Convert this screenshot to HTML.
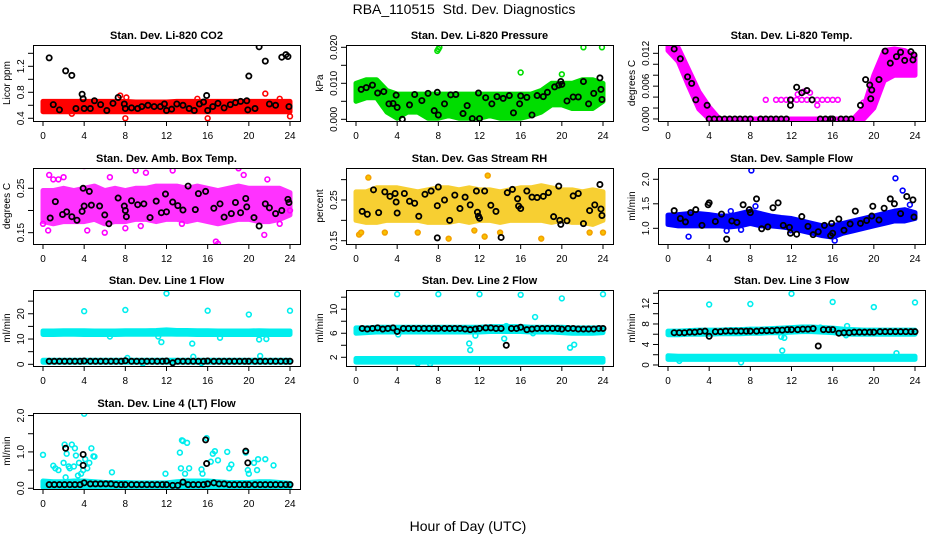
<!DOCTYPE html>
<html><head><meta charset="utf-8">
<style>
html,body{margin:0;padding:0;background:#fff;}
svg{display:block;font-family:"Liberation Sans",sans-serif;}
</style></head>
<body>
<svg id="chart" width="936" height="540" viewBox="0 0 936 540" xmlns="http://www.w3.org/2000/svg">
<text x="464" y="14" text-anchor="middle" font-size="14">RBA_110515&#160; Std. Dev. Diagnostics</text>
<text x="468" y="531" text-anchor="middle" font-size="14">Hour of Day (UTC)</text>
</svg>
<script>
// ---- data ----
const xTicks = [0,4,8,12,16,20,24];
const hours = [0,1,2,3,4,5,6,7,8,9,10,11,12,13,14,15,16,17,18,19,20,21,22,23,24];
const lineHours = [0.6,1.1,1.6,2.1,2.6,3.1,3.6,4,4.6,5.1,5.6,6.1,6.6,7.1,7.6,8,8.6,9.1,9.6,10.1,10.6,11.1,11.6,12,12.6,13.1,13.6,14.1,14.6,15.1,15.6,16,16.6,17.1,17.6,18.1,18.6,19.1,19.6,20,20.6,21.1,21.6,22.1,22.6,23.1,23.6,24];

// P1 CO2
const co2Lo = [0.5,0.5,0.5,0.5,0.5,0.5,0.5,0.5,0.5,0.5,0.5,0.5,0.5,0.5,0.5,0.5,0.5,0.5,0.5,0.5,0.5,0.5,0.5,0.5,0.5];
const co2Hi = [0.66,0.66,0.66,0.66,0.66,0.66,0.66,0.66,0.66,0.65,0.65,0.65,0.65,0.66,0.66,0.66,0.66,0.66,0.66,0.66,0.66,0.66,0.66,0.66,0.66];
const co2ExtraX = [2.8,7.5,8,8.1,15,16,16.2,21.6,23,24];
const co2ExtraY = [0.47,0.75,0.4,0.72,0.7,0.4,0.6,0.78,0.7,0.43];
const co2BlackX = [0.6,1,1.6,2.2,2.8,3.2,3.8,3.9,4,4.6,5,5.6,6.2,6.8,7.3,7.9,8,8.6,9.2,9.6,10.2,10.8,11.4,11.8,12,12.5,13,13.6,14.2,14.7,15.2,15.6,15.9,16,16.5,17,17.6,18.2,18.7,19.2,19.8,19.9,20,20.6,21,21.6,22,22.6,23.2,23.6,23.8,23.9];
const co2BlackY = [1.33,0.61,0.53,1.13,1.06,0.55,0.77,0.7,0.55,0.55,0.67,0.61,0.52,0.63,0.72,0.62,0.55,0.56,0.55,0.58,0.6,0.58,0.58,0.62,0.52,0.54,0.62,0.6,0.55,0.52,0.62,0.65,0.75,0.52,0.58,0.63,0.56,0.61,0.64,0.66,0.67,0.53,1.05,0.55,1.5,1.28,0.62,0.6,1.34,1.38,1.35,0.58];

// P2 Pressure
const presLo = [0.005,0.006,0.006,0.002,0.0003,0.002,0.002,0.0003,0.0003,0.001,0.0003,0.0003,0.0003,0.001,0.0003,0.0003,0.0003,0.001,0.002,0.004,0.004,0.003,0.003,0.003,0.005];
const presHi = [0.010,0.011,0.011,0.008,0.007,0.007,0.007,0.007,0.007,0.007,0.007,0.007,0.007,0.007,0.007,0.007,0.007,0.007,0.008,0.010,0.010,0.010,0.011,0.011,0.010];
const presExtraX = [7.9,8,8.1,16,20,22.1,23.9];
const presExtraY = [0.019,0.0195,0.02,0.013,0.0125,0.02,0.02];
const presBlackX = [0.5,1,1.6,2.1,2.7,3.2,3.6,3.9,4,4.5,5.2,5.7,6.4,7,7.6,7.9,8,8.6,9.2,9.7,10.4,10.8,11.3,11.9,12,12.6,13.2,13.7,14.3,14.9,15.3,15.9,16,16.6,17.1,17.6,18.2,18.6,19.3,19.7,19.9,20,20.5,21.1,21.6,22.1,22.6,23.1,23.7,23.8,23.9];
const presBlackY = [0.0083,0.0088,0.0095,0.0073,0.0077,0.0043,0.0044,0.0067,0.0033,0,0.004,0.0069,0.0052,0.0072,0.0024,0.0075,0.0012,0.0043,0.0068,0.0069,0.0016,0.0038,0.0002,0.0073,0.0002,0.006,0.0043,0.0063,0.0058,0.0066,0.0018,0.0043,0.0065,0.0061,0.0012,0.0066,0.0063,0.0075,0.009,0.0095,0.0105,0.0097,0.0051,0.0062,0.0062,0.0105,0.0043,0.0072,0.0115,0.0083,0.0055];

// P3 Temp
const tempLo = [0.0125,0.0105,0.006,0.0018,0,0,0,0,0,0,0,0,0,0,0,0,0,0,0,0,0.002,0.007,0.008,0.008,0.008];
const tempHi = [0.0132,0.013,0.009,0.005,0.0022,0,0,0,0,0,0,0,0,0,0,0,0,0,0,0.002,0.008,0.0125,0.0128,0.0125,0.0115];
const tempExtraX = [9.5,10.5,11,11.5,12,12.5,13,13.5,14,14.5,15,15.5,16,16.5,12.6,13.2,13.8,14.5,19];
const tempExtraY = [0.0035,0.0035,0.0035,0.0035,0.0035,0.0035,0.0035,0.0035,0.0035,0.0035,0.0035,0.0035,0.0035,0.0035,0.0045,0.005,0.0048,0.0025,0.003];
const tempBlackX = [0.6,1.2,1.9,2.3,2.7,3.8,4,4.5,5,5.5,6,6.5,7,7.5,8,9,9.5,10,10.5,11,11.5,11.9,11.9,12.5,13,13.5,14,14.8,15.3,15.8,16,16.8,17.3,17.8,18.7,19.2,19.6,19.7,19.8,20.5,21.1,21.6,22.2,22.6,23,23.6,23.8,23.9];
const tempBlackY = [.0128,.011,.0077,.0065,.0035,.0025,0,0,0,0,0,0,0,0,0,0,0,0,0,0,0,.0025,.0035,.0058,.0048,.0052,.0035,0,0,0,0,0,0,0,.0025,.0072,.0062,.0037,.0053,.0072,.0124,.0102,.0114,.0122,.0107,.0123,.0108,.0117];

// P4 Amb box temp
const ambLo = [0.175,0.17,0.175,0.175,0.175,0.18,0.17,0.175,0.175,0.18,0.18,0.175,0.18,0.18,0.175,0.18,0.175,0.17,0.175,0.18,0.18,0.175,0.175,0.18,0.19];
const ambHi = [0.245,0.245,0.25,0.245,0.25,0.255,0.245,0.25,0.245,0.25,0.25,0.255,0.255,0.255,0.25,0.255,0.25,0.245,0.25,0.255,0.25,0.25,0.25,0.25,0.24];
const ambExtraX = [0,0.5,0.6,1,1.5,2,4,4.3,6,6.5,8,9,9.5,10,12.6,13.5,16.8,17,19,19.5,21.5,21.8,23,24];
const ambExtraY = [0.17,0.155,0.28,0.27,0.27,0.275,0.3,0.155,0.15,0.275,0.16,0.29,0.165,0.285,0.29,0.17,0.13,0.125,0.295,0.28,0.145,0.27,0.17,0.2];
const ambBlackX = [0.7,1.2,1.9,2.3,2.8,3.3,3.8,3.9,4,4.5,4.7,5.5,6,6.4,7.3,7.9,8,8.1,8.6,9.2,9.8,10.4,11,11.5,11.9,12,12.6,13.1,13.6,14.1,14.8,15.1,15.8,16.6,17.2,17.6,18.3,18.7,19.2,19.7,19.8,20.5,21,21.6,22,22.6,23.2,23.8,23.9];
const ambBlackY = [.183,.22,.191,.197,.186,.178,.198,.25,.21,.243,.212,.21,.19,.17,.228,.21,.2,.186,.222,.213,.215,.184,.221,.195,.237,.197,.219,.211,.201,.255,.202,.238,.243,.205,.215,.185,.193,.218,.195,.227,.208,.184,.165,.215,.206,.193,.2,.225,.218];

// P5 RH
const rhLo = [0.2,0.195,0.195,0.2,0.2,0.2,0.2,0.195,0.195,0.195,0.2,0.195,0.2,0.2,0.195,0.2,0.2,0.2,0.2,0.195,0.2,0.195,0.195,0.19,0.2];
const rhHi = [0.27,0.27,0.28,0.28,0.28,0.275,0.27,0.275,0.28,0.28,0.275,0.28,0.275,0.275,0.27,0.275,0.28,0.28,0.285,0.28,0.275,0.275,0.27,0.275,0.27];
const rhExtraX = [0.3,0.5,1.2,6,9,11.5,12.5,12.8,14,18,24,2.8,22.7];
const rhExtraY = [0.165,0.17,0.305,0.17,0.155,0.175,0.16,0.31,0.17,0.155,0.17,0.17,0.17];
const rhBlackX = [.6,1.1,1.7,2.2,2.8,3.3,3.8,3.9,4,4.7,5.2,5.7,6.1,6.7,7.3,7.9,7.9,8,8.6,9.1,9.6,10.1,10.6,11.1,11.7,11.8,11.9,12,12.5,13.1,13.6,14.1,14.7,15.2,15.7,15.8,16,16.6,17.1,17.6,18.2,18.7,19.2,19.7,19.8,19.9,20.5,21.1,21.6,22.1,22.7,23.2,23.7,23.8,23.9];
const rhBlackY = [.222,.215,.275,.219,.27,.259,.266,.245,.218,.266,.247,.242,.21,.264,.272,.236,.157,.282,.25,.2,.262,.229,.257,.238,.272,.22,.21,.205,.272,.237,.222,.158,.268,.276,.253,.235,.229,.272,.257,.256,.259,.268,.209,.284,.2,.19,.199,.26,.266,.192,.224,.238,.288,.228,.212];

// P6 Sample flow
const sfLo = [1.08,1.05,1.05,1.05,1.05,1.05,1.03,1.05,1.1,1.05,1.05,1.03,1.0,0.95,0.9,0.85,0.82,0.9,0.95,1.0,1.05,1.1,1.15,1.15,1.2];
const sfHi = [1.27,1.28,1.3,1.3,1.28,1.25,1.25,1.3,1.35,1.3,1.25,1.22,1.2,1.15,1.1,1.05,1.05,1.1,1.15,1.2,1.25,1.3,1.35,1.38,1.32];
const sfExtraX = [2,5.7,8.1,22.1,22.8,0.3,6.1,7.1,8.5,11.9,16.2,23.5];
const sfExtraY = [0.83,0.95,2.18,2.02,1.77,1.2,1.35,0.97,1.45,0.96,0.75,1.48];
const sfBlackX = [.6,1.2,1.7,2.2,2.7,3.3,3.9,4,4.6,5.2,5.7,6.2,6.7,7.3,7.9,8,8.6,9.1,9.7,10.2,10.7,11.2,11.8,11.9,12.5,13,13.6,14.1,14.6,15.2,15.8,15.9,16,16.6,17.1,17.7,18.2,18.7,19.3,19.8,19.9,20.5,21,21.6,22,22.6,23.2,23.8,23.9];
const sfBlackY = [1.36,1.2,1.13,1.32,1.38,1.06,1.48,1.52,1.14,1.29,.78,1.15,1.12,1.48,1.38,1.32,1.6,.99,1.03,1.42,1.52,1.06,1.02,.9,.88,1.24,1.04,.87,.93,1.06,.85,1.1,.9,1.19,.96,1.09,1.35,1.1,1.16,1.25,1.45,1.17,1.41,1.6,1.5,1.3,1.65,1.58,1.23];

// P7 Line 1
const l1UpLo = [11.8,11.8,11.9,11.9,11.8,11.8,11.8,11.8,11.9,11.9,11.9,11.9,12,11.9,11.9,11.8,11.8,11.8,11.8,11.8,11.8,11.8,11.8,11.8,11.8];
const l1UpHi = [13.2,13.2,13.3,13.3,13.3,13.2,13.2,13.2,13.3,13.3,13.3,13.4,13.6,13.4,13.4,13.3,13.3,13.2,13.2,13.2,13.2,13.3,13.2,13.2,13.2];
const l1LoLo = [0.8,0.8,0.8,0.8,0.8,0.8,0.8,0.8,0.8,0.8,0.8,0.8,0.8,0.8,0.8,0.8,0.8,0.8,0.8,0.8,0.8,0.8,0.8,0.8,0.8];
const l1LoHi = [1.6,1.6,1.6,1.6,1.6,1.6,1.6,1.6,1.6,1.6,1.6,1.6,1.6,1.6,1.6,1.6,1.6,1.6,1.6,1.6,1.6,1.6,1.6,1.6,1.6];
const l1ExtraX = [4,8,12,16,20,24,11.2,11.5,14.5,17.2,21,21.7,6.5,8.2,14.6,21.1,9.7,15.4];
const l1ExtraY = [21,21.5,28,21.2,19.7,21.2,11,8.8,8.2,10.5,9.8,10,11,2.5,3,3.3,0.3,0.5];
const l1BlackY = [1.2,1.2,1.2,1.2,1.2,1.2,1.2,1.3,1.2,1.2,1.2,1.2,1.2,1.2,1.2,1.4,1.2,1.2,1.2,1.2,1.2,1.2,1.2,1.3,0.6,1.2,1.2,1.2,1.2,1.2,1.2,1.3,1.2,1.2,1.2,1.2,1.2,1.2,1.2,1.2,1.2,1.2,1.2,1.2,1.2,1.2,1.2,1.2];

// P8 Line 2
const l2UpLo = [6.0,6.1,6.2,6.2,6.2,6.2,6.2,6.2,6.2,6.2,6.2,6.2,6.2,6.3,6.3,6.3,6.3,6.2,6.2,6.2,6.1,6.0,6.0,6.0,6.1];
const l2UpHi = [6.9,6.9,7.0,7.0,7.0,7.0,7.0,7.0,7.0,7.0,7.0,7.0,7.0,7.1,7.1,7.1,7.1,7.0,7.0,7.0,7.0,6.9,6.9,6.9,6.9];
const l2LoLo = [1.2,1.2,1.2,1.2,1.2,1.2,1.2,1.2,1.2,1.2,1.2,1.2,1.2,1.2,1.2,1.2,1.2,1.2,1.2,1.2,1.2,1.2,1.2,1.2,1.2];
const l2LoHi = [1.8,1.8,1.8,1.8,1.8,1.8,1.8,1.8,1.8,1.8,1.8,1.8,1.8,1.8,1.8,1.8,1.8,1.8,1.8,1.8,1.8,1.8,1.8,1.8,1.8];
const l2ExtraX = [4,8,12,16,20,24,11,11.1,11.6,14.4,14.6,17.4,17.2,20.8,21.2,4.1,6,7.2];
const l2ExtraY = [12.5,12.5,12.5,12.4,11.8,12.5,4.3,3.2,5.6,5.1,7.2,8.7,6,3.6,4.1,5.8,1,0.9];
const l2BlackY = [6.8,6.7,6.8,6.9,6.7,6.8,6.9,6.3,6.8,6.8,6.8,6.8,6.8,6.8,6.8,6.8,6.8,6.8,6.8,6.8,6.7,6.6,6.7,6.8,6.9,6.9,6.8,6.8,4.0,6.8,6.8,7.0,6.6,6.7,6.8,6.8,6.8,6.8,6.8,6.7,6.8,6.8,6.7,6.7,6.7,6.7,6.8,6.8];

// P9 Line 3
const l3UpLo = [5.9,5.9,6.0,6.0,6.0,6.1,6.1,6.1,6.2,6.2,6.3,6.3,6.4,6.5,6.5,6.4,6.3,6.1,6.0,6.0,6.0,6.0,6.0,6.0,6.0];
const l3UpHi = [6.6,6.6,6.7,6.8,6.8,6.8,6.9,6.9,7.0,7.0,7.1,7.2,7.3,7.4,7.4,7.3,7.2,7.0,6.9,6.8,6.8,6.8,6.8,6.8,6.8];
const l3LoLo = [1.1,1.1,1.1,1.1,1.1,1.1,1.1,1.1,1.1,1.1,1.1,1.1,1.1,1.1,1.1,1.1,1.1,1.1,1.1,1.1,1.1,1.1,1.1,1.1,1.1];
const l3LoHi = [1.8,1.7,1.7,1.7,1.7,1.7,1.7,1.7,1.7,1.7,1.7,1.7,1.7,1.7,1.7,1.7,1.7,1.7,1.7,1.7,1.7,1.7,1.7,1.7,1.7];
const l3ExtraX = [4,8,12,16,20,24,11,11.1,11.3,14.8,17.4,17.3,22.2,1.1,7.1];
const l3ExtraY = [11.8,11.9,13.9,12.3,11.3,12.2,5.5,2.8,5.3,7.3,7.6,5.8,2.3,0.8,0.5];
const l3BlackY = [6.3,6.3,6.3,6.4,6.4,6.5,6.6,5.6,6.5,6.5,6.6,6.6,6.6,6.6,6.6,6.6,6.6,6.7,6.7,6.7,6.8,6.8,6.9,6.9,6.9,7.0,7.0,7.1,3.7,6.9,6.9,6.9,6.2,6.3,6.3,6.4,6.4,6.4,6.4,6.4,6.5,6.5,6.5,6.5,6.5,6.5,6.5,6.5];

// P10 Line 4
const l4LoLo = [0.03,0.03,0.03,0.03,0.03,0.03,0.03,0.03,0.03,0.03,0.03,0.03,0.03,0.03,0.03,0.03,0.03,0.03,0.03,0.03,0.03,0.03,0.03,0.03,0.03];
const l4LoHi = [0.2,0.18,0.18,0.2,0.2,0.18,0.16,0.16,0.16,0.15,0.15,0.15,0.15,0.18,0.2,0.2,0.2,0.18,0.16,0.16,0.16,0.18,0.18,0.16,0.14];
const l4ExtraX = [0,0.2,1,1.2,1.5,2,2.1,2.2,2.3,2.5,2.6,2.8,3,3.1,3.2,3.4,3.5,3.7,3.9,4,4.1,4.3,4.5,4.7,4.9,5,6.7,11.9,13.3,13.4,13.5,13.6,13.8,14,14.2,15.4,15.5,15.9,16.3,16.5,16.7,17,17.9,18.1,18.3,19.7,19.9,20,20.5,20.8,20.9,21.6,22.4];
const l4ExtraY = [.92,.1,.62,.55,.5,.7,1.2,.3,.95,.6,.55,1.2,.6,1.1,.9,.35,.7,.4,.5,2.05,.8,.55,.7,1.1,.88,.87,.44,.4,.98,.55,1.32,1.3,.4,1.25,.55,.52,.4,1.38,.73,.95,1.02,.77,1.0,.55,.65,.98,.5,.4,.7,.5,.8,.8,.63];
const l4BlackY = [0.1,0.1,0.1,0.1,0.1,0.1,0.1,0.15,0.12,0.12,0.12,0.12,0.12,0.1,0.1,0.1,0.1,0.1,0.1,0.1,0.1,0.1,0.1,0.1,0.08,0.08,0.17,0.1,0.1,0.1,0.1,0.12,0.15,0.12,0.12,0.1,0.1,0.1,0.1,0.1,0.1,0.1,0.1,0.1,0.1,0.1,0.1,0.1];
const l4BlackExtraX = [2.2,3.9,3.9,15.8,15.9,19.7,19.9];
const l4BlackExtraY = [1.1,0.93,0.63,1.33,0.68,1.02,0.7];

// ---- layout ----
const colX = [33,346,658], rowY = [45,168,290,413], BW = 267, BH = 76;
const panels = [
 {name:'co2',title:'Stan. Dev. Li-820 CO2',ylab:'Licor ppm',c:0,r:0,dom:[0.358,1.528],ticks:[0.4,0.6,0.8,1.0,1.2,1.4],labels:['0.4','','0.8','','1.2',''],color:'#ff0000',bands:[[co2Lo,co2Hi]],ex:[co2ExtraX,co2ExtraY],bk:[[co2BlackX,co2BlackY]]},
 {name:'pressure',title:'Stan. Dev. Li-820 Pressure',ylab:'kPa',c:1,r:0,dom:[-0.00047,0.02064],ticks:[0,0.005,0.01,0.015,0.02],labels:['0.000','','0.010','','0.020'],color:'#00dd00',bands:[[presLo,presHi]],ex:[presExtraX,presExtraY],bk:[[presBlackX,presBlackY]]},
 {name:'temp',title:'Stan. Dev. Li-820 Temp.',ylab:'degrees C',c:2,r:0,dom:[-0.00037,0.01352],ticks:[0,0.002,0.004,0.006,0.008,0.010,0.012],labels:['0.000','','','0.006','','','0.012'],color:'#ff00ff',bands:[[tempLo,tempHi]],ex:[tempExtraX,tempExtraY],bk:[[tempBlackX,tempBlackY]]},
 {name:'amb-temp',title:'Stan. Dev. Amb. Box Temp.',ylab:'degrees C',c:0,r:1,dom:[0.1245,0.2957],ticks:[0.15,0.2,0.25],labels:['0.15','','0.25'],color:'#ff00ff',op:0.8,bands:[[ambLo,ambHi]],ex:[ambExtraX,ambExtraY],bk:[[ambBlackX,ambBlackY]]},
 {name:'rh',title:'Stan. Dev. Gas Stream RH',ylab:'percent',c:1,r:1,dom:[0.1419,0.3286],ticks:[0.15,0.2,0.25,0.3],labels:['0.15','','0.25',''],color:'#f4a000',fill:'#f6c400',op:0.8,bands:[[rhLo,rhHi]],ex:[rhExtraX,rhExtraY],bk:[[rhBlackX,rhBlackY]]},
 {name:'sample-flow',title:'Stan. Dev. Sample Flow',ylab:'ml/min',c:2,r:1,dom:[0.68,2.23],ticks:[1.0,1.5,2.0],labels:['1.0','1.5','2.0'],color:'#0000ff',bands:[[sfLo,sfHi]],ex:[sfExtraX,sfExtraY],bk:[[sfBlackX,sfBlackY]]},
 {name:'line1-flow',title:'Stan. Dev. Line 1 Flow',ylab:'ml/min',c:0,r:2,dom:[-0.67,29.4],ticks:[0,5,10,15,20,25],labels:['0','','10','','20',''],color:'#00eeee',bands:[[l1UpLo,l1UpHi],[l1LoLo,l1LoHi]],ex:[l1ExtraX,l1ExtraY],bk:[[lineHours,l1BlackY]]},
 {name:'line2-flow',title:'Stan. Dev. Line 2 Flow',ylab:'ml/min',c:1,r:2,dom:[0.55,13.2],ticks:[2,4,6,8,10,12],labels:['2','','6','','10',''],color:'#00eeee',bands:[[l2UpLo,l2UpHi],[l2LoLo,l2LoHi]],ex:[l2ExtraX,l2ExtraY],bk:[[lineHours,l2BlackY]]},
 {name:'line3-flow',title:'Stan. Dev. Line 3 Flow',ylab:'ml/min',c:2,r:2,dom:[-0.2,14.63],ticks:[0,2,4,6,8,10,12,14],labels:['0','','4','','8','','12',''],color:'#00eeee',bands:[[l3UpLo,l3UpHi],[l3LoLo,l3LoHi]],ex:[l3ExtraX,l3ExtraY],bk:[[lineHours,l3BlackY]]},
 {name:'line4-flow',title:'Stan. Dev. Line 4 (LT) Flow',ylab:'ml/min',c:0,r:3,dom:[-0.02,2.07],ticks:[0,0.5,1.0,1.5,2.0],labels:['0.0','','1.0','','2.0'],color:'#00eeee',bands:[[l4LoLo,l4LoHi]],ex:[l4ExtraX,l4ExtraY],bk:[[lineHours,l4BlackY],[l4BlackExtraX,l4BlackExtraY]]}
];

const NS = 'http://www.w3.org/2000/svg';
const svg = document.getElementById('chart');
function mk(tag, attrs, parent){ const e=document.createElementNS(NS,tag); for(const k in attrs) e.setAttribute(k,attrs[k]); (parent||svg).appendChild(e); return e; }

panels.forEach(p=>{
  const x0 = colX[p.c], y0 = rowY[p.r];
  const xs = h => x0 + 10 + h*(247/24);
  const ys = v => y0 + BH - (v - p.dom[0])/(p.dom[1]-p.dom[0])*BH;
  const g = mk('g',{});
  
  
  const clipId = 'clip-'+p.name;
  const cp = mk('clipPath',{id:clipId},g);
  mk('rect',{x:x0,y:y0,width:BW,height:BH},cp);
  const plot = mk('g',{'clip-path':'url(#'+clipId+')'},g);
  
  
  p.bands.forEach(b=>{
    const lo=b[0], hi=b[1];
    let pts=[];
    for(let i=0;i<hours.length;i++) pts.push(xs(hours[i])+','+ys(hi[i]));
    for(let i=hours.length-1;i>=0;i--) pts.push(xs(hours[i])+','+ys(lo[i]));
    const poly = mk('polygon',{points:pts.join(' '),fill:p.fill||p.color,stroke:p.fill||p.color,'stroke-width':5,'stroke-linejoin':'round',opacity:p.op||1},plot);
    
    
  });
  const ex=p.ex;
  for(let i=0;i<Math.min(ex[0].length,ex[1].length);i++){
    const c = mk('circle',{cx:xs(ex[0][i]),cy:ys(ex[1][i]),r:2.4,fill:p.fill?p.fill:'none',stroke:p.color,'stroke-width':1.6},plot);
    
    
  }
  p.bk.forEach(s=>{
    for(let i=0;i<Math.min(s[0].length,s[1].length);i++){
      const c = mk('circle',{cx:xs(s[0][i]),cy:ys(s[1][i]),r:2.6,fill:'none',stroke:'#000','stroke-width':1.8},plot);
      
      
    }
  });
  const box = mk('rect',{x:x0+0.5,y:y0+0.5,width:BW,height:BH,fill:'none',stroke:'#000','stroke-width':1},g);
  
  
  xTicks.forEach(t=>{
    mk('line',{x1:xs(t),x2:xs(t),y1:y0+BH,y2:y0+BH+5,stroke:'#000'},g);
    const tx = mk('text',{x:xs(t),y:y0+BH+18,'text-anchor':'middle','font-size':10},g);
    tx.textContent = t;
    
    
  });
  p.ticks.forEach((t,i)=>{
    const y = ys(t);
    mk('line',{x1:x0-5,x2:x0,y1:y,y2:y,stroke:'#000'},g);
    if(p.labels[i]){
      const tx = mk('text',{x:0,y:0,'text-anchor':'middle','font-size':10,transform:'translate('+(x0-9)+','+y+') rotate(-90)'},g);
      tx.textContent = p.labels[i];
      
      
    }
  });
  const yl = mk('text',{x:0,y:0,'text-anchor':'middle','font-size':10,transform:'translate('+(x0-23)+','+(y0+BH/2)+') rotate(-90)'},g);
  yl.textContent = p.ylab;
  
  
  const tt = mk('text',{x:x0+BW/2,y:y0-6,'text-anchor':'middle','font-size':11,'font-weight':'bold'},g);
  tt.textContent = p.title;
  
  
});
</script>
</body></html>
